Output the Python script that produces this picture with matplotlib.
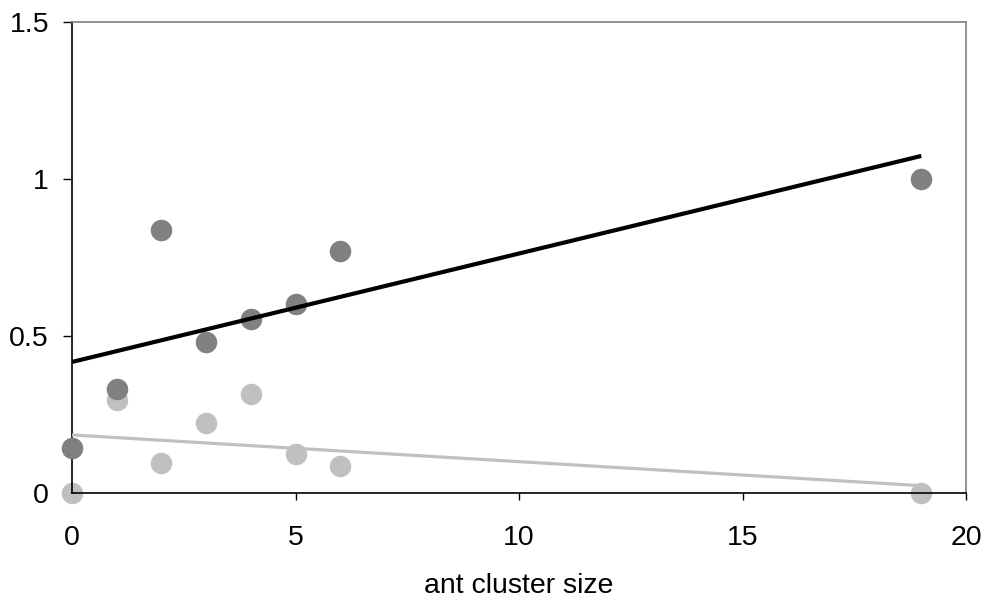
import numpy as np
import matplotlib
matplotlib.use("Agg")
import matplotlib.pyplot as plt

# cluster sizes and the two response series
cluster_size = [0, 1, 2, 3, 4, 5, 6, 19]
dark_vals = [0.143, 0.331, 0.838, 0.481, 0.554, 0.602, 0.771, 1.0]
light_vals = [0.0, 0.296, 0.095, 0.223, 0.315, 0.124, 0.086, 0.0]

x_ticks = [0, 5, 10, 15, 20]
y_ticks = [0, 0.5, 1, 1.5]
y_tick_labels = ["0", "0.5", "1", "1.5"]

plt.rcParams['font.family'] = ['Liberation Sans', 'DejaVu Sans']

fig = plt.figure(figsize=(9.88, 6), dpi=100)
ax = fig.add_axes([72 / 988, 1 - 493 / 600, (966 - 72) / 988, (493 - 22) / 600])

dark_col = '#808080'
light_col = '#c0c0c0'

ax.plot(cluster_size, light_vals, 'o', color=light_col, markersize=15.5,
        markeredgewidth=0, clip_on=False, zorder=2)
ax.plot(cluster_size, dark_vals, 'o', color=dark_col, markersize=15.5,
        markeredgewidth=0, clip_on=False, zorder=3)

# linear trend lines over the data range
xs = np.array([min(cluster_size), max(cluster_size)])
b_d = np.polyfit(cluster_size, dark_vals, 1)
b_l = np.polyfit(cluster_size, light_vals, 1)
ax.plot(xs, np.polyval(b_l, xs), color=light_col, linewidth=2.3, zorder=4,
        solid_capstyle='butt')
ax.plot(xs, np.polyval(b_d, xs), color='black', linewidth=3, zorder=5,
        solid_capstyle='butt')

ax.set_xlim(0, 20)
ax.set_ylim(0, 1.5)
ax.set_xticks(x_ticks)
ax.set_yticks(y_ticks)
ax.set_yticklabels(y_tick_labels)
ax.tick_params(axis='both', direction='out', labelsize=20.5, width=1)
ax.tick_params(axis='y', length=6.5, pad=10)
ax.tick_params(axis='x', length=5, pad=18)

ax.spines['left'].set_color('black')
ax.spines['bottom'].set_color('black')
ax.spines['top'].set_color('#808080')
ax.spines['right'].set_color('#808080')
for s in ax.spines.values():
    s.set_linewidth(1.2)

ax.set_xlabel('ant cluster size', fontsize=20.5, labelpad=16)

fig.savefig('out.png', dpi=100)
